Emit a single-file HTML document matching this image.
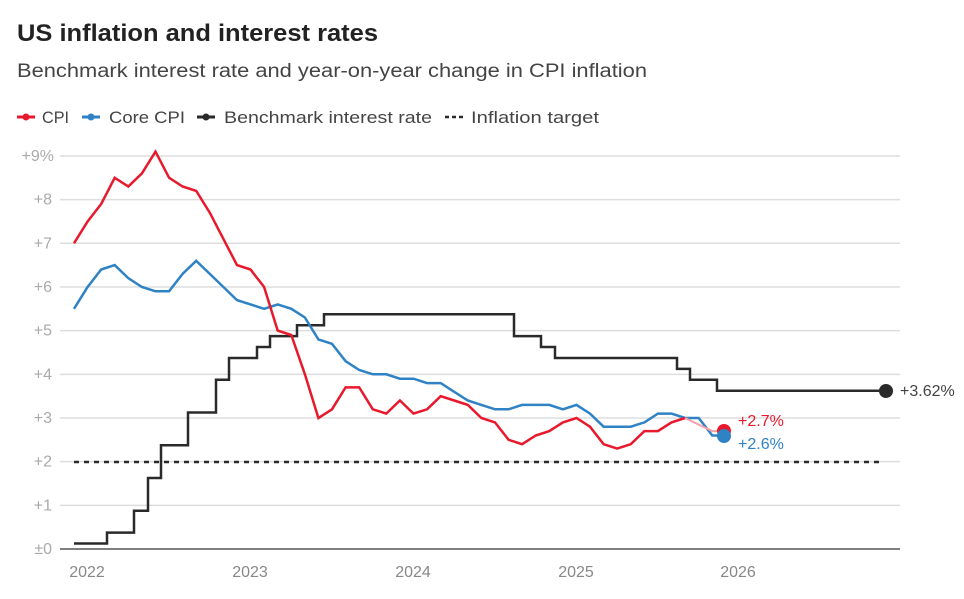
<!DOCTYPE html>
<html><head><meta charset="utf-8"><style>
body{margin:0;background:#fff;width:964px;height:594px;overflow:hidden;font-family:"Liberation Sans",sans-serif}
</style></head><body>
<svg width="964" height="594" xmlns="http://www.w3.org/2000/svg" font-family="Liberation Sans, sans-serif">
<text x="17" y="41" font-size="24" font-weight="bold" fill="#222" textLength="361" lengthAdjust="spacingAndGlyphs">US inflation and interest rates</text>
<text x="17" y="77" font-size="19" fill="#444" textLength="630" lengthAdjust="spacingAndGlyphs">Benchmark interest rate and year-on-year change in CPI inflation</text>
<g font-size="17" fill="#444">
<line x1="17" y1="117" x2="35" y2="117" stroke="#e8192c" stroke-width="3"/><circle cx="26" cy="117" r="3.5" fill="#e8192c"/>
<text x="42" y="123" textLength="27" lengthAdjust="spacingAndGlyphs">CPI</text>
<line x1="82" y1="117" x2="100" y2="117" stroke="#2f82c4" stroke-width="3"/><circle cx="91" cy="117" r="3.5" fill="#2f82c4"/>
<text x="109" y="123" textLength="76" lengthAdjust="spacingAndGlyphs">Core CPI</text>
<line x1="197" y1="117" x2="215" y2="117" stroke="#2a2a2a" stroke-width="3"/><circle cx="206" cy="117" r="3.5" fill="#2a2a2a"/>
<text x="224" y="123" textLength="208" lengthAdjust="spacingAndGlyphs">Benchmark interest rate</text>
<line x1="445" y1="117" x2="463" y2="117" stroke="#2a2a2a" stroke-width="2.5" stroke-dasharray="4,3"/>
<text x="471" y="123" textLength="128" lengthAdjust="spacingAndGlyphs">Inflation target</text>
</g>
<g stroke="#ddd" stroke-width="1.5" id="grid"></g>
<g id="yl" font-size="16" fill="#aaa" text-anchor="end"></g>
<line x1="60" y1="549" x2="900" y2="549" stroke="#555" stroke-width="1.5"/>
<g font-size="16" fill="#888" text-anchor="middle">
<text x="87" y="577">2022</text><text x="250" y="577">2023</text><text x="413" y="577">2024</text><text x="576" y="577">2025</text><text x="738" y="577">2026</text>
</g>
<line x1="74" y1="462" x2="880" y2="462" stroke="#2a2a2a" stroke-width="2.5" stroke-dasharray="5,5"/>
<path id="fed" fill="none" stroke="#2a2a2a" stroke-width="2.5"/>
<path id="core" fill="none" stroke="#2f82c4" stroke-width="2.5"/>
<path id="cpi" fill="none" stroke="#e8192c" stroke-width="2.5"/>
<path id="cpi2" fill="none" stroke="#f3a0a8" stroke-width="2"/>
<circle cx="724" cy="431" r="7" fill="#e8192c"/>
<circle cx="724" cy="436" r="7" fill="#2f82c4"/>
<circle cx="886" cy="391" r="7" fill="#2a2a2a"/>
<text x="738" y="426" font-size="16" fill="#e8192c">+2.7%</text>
<text x="738" y="449" font-size="16" fill="#2f82c4">+2.6%</text>
<text x="900" y="396" font-size="16" fill="#444">+3.62%</text>
</svg>
<script>
const Y=v=>549-43.67*v, X=i=>74+13.58*i;
const g=document.getElementById('grid'),yl=document.getElementById('yl');
for(let v=1;v<=9;v++){const y=Y(v);g.innerHTML+=`<line x1="60" y1="${y}" x2="900" y2="${y}"/>`;}
for(let v=0;v<=9;v++){yl.innerHTML+=`<text x="${v==9?54:52}" y="${Y(v)+5}">${v==0?'±0':'+'+v+(v==9?'%':'')}</text>`;}
const cpi=[7.0,7.5,7.9,8.5,8.3,8.6,9.1,8.5,8.3,8.2,7.7,7.1,6.5,6.4,6.0,5.0,4.9,4.0,3.0,3.2,3.7,3.7,3.2,3.1,3.4,3.1,3.2,3.5,3.4,3.3,3.0,2.9,2.5,2.4,2.6,2.7,2.9,3.0,2.8,2.4,2.3,2.4,2.7,2.7,2.9,3.0];
const core=[5.5,6.0,6.4,6.5,6.2,6.0,5.9,5.9,6.3,6.6,6.3,6.0,5.7,5.6,5.5,5.6,5.5,5.3,4.8,4.7,4.3,4.1,4.0,4.0,3.9,3.9,3.8,3.8,3.6,3.4,3.3,3.2,3.2,3.3,3.3,3.3,3.2,3.3,3.1,2.8,2.8,2.8,2.9,3.1,3.1,3.0,3.0,2.6,2.6];
const p=a=>a.map((v,i)=>(i?'L':'M')+X(i).toFixed(1)+' '+Y(v).toFixed(1)).join(' ');
document.getElementById('cpi').setAttribute('d',p(cpi));
document.getElementById('cpi2').setAttribute('d',`M${X(45)} ${Y(3.0)} L${X(47)} ${Y(2.7)} L${X(48)} ${Y(2.7)}`);
document.getElementById('core').setAttribute('d',p(core));
const st=[[74,0.125],[107,0.375],[134,0.875],[148,1.625],[161,2.375],[188,3.125],[216,3.875],[229,4.375],[257,4.625],[270,4.875],[297,5.125],[324,5.375],[514,4.875],[541,4.625],[555,4.375],[677,4.125],[690,3.875],[717,3.625]];
let d='M74 '+Y(0.125);
for(let i=1;i<st.length;i++){d+=` L${st[i][0]} ${Y(st[i-1][1])} L${st[i][0]} ${Y(st[i][1])}`;}
d+=` L886 ${Y(3.625)}`;
document.getElementById('fed').setAttribute('d',d);
</script>
</body></html>
